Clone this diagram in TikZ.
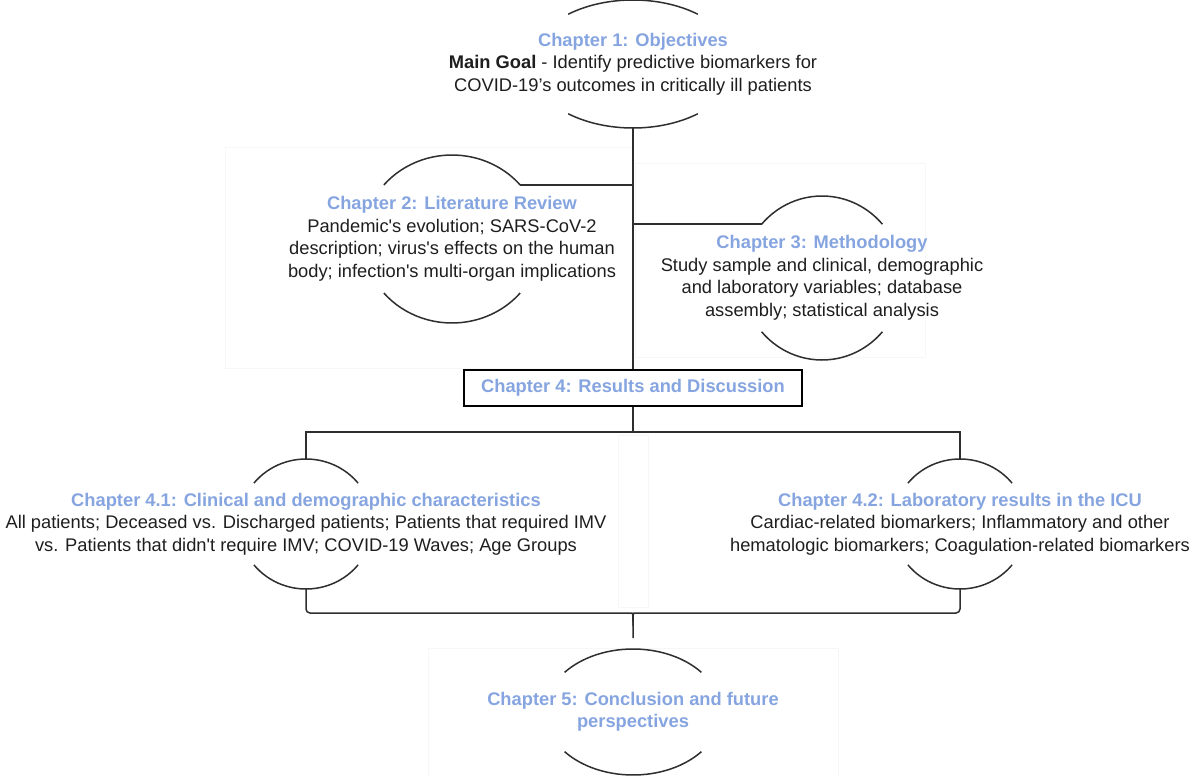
\documentclass[tikz,border=0pt]{standalone}
\usepackage{fontspec}
\setmainfont{Liberation Sans}[Ligatures=TeXOff]
\usepackage{xcolor}
\usetikzlibrary{calc}
\definecolor{TitleBlue}{HTML}{86A5E0}
\definecolor{BodyText}{HTML}{1E1E1E}
\definecolor{LineGray}{HTML}{2E2E2E}
\newcommand{\chtitle}[1]{\textcolor{TitleBlue}{\bfseries #1}}
\newcommand{\chaparcs}[4]{%
  \draw[arcline] ([shift={(180-#4:#2pt and #3pt)}]#1.center)
    arc[start angle=180-#4, end angle=#4, x radius=#2pt, y radius=#3pt];
  \draw[arcline] ([shift={(180+#4:#2pt and #3pt)}]#1.center)
    arc[start angle=180+#4, end angle=360-#4, x radius=#2pt, y radius=#3pt];
  \coordinate (#1-n) at ([yshift=#3pt]#1.center);
  \coordinate (#1-s) at ([yshift=-#3pt]#1.center);
  \coordinate (#1-nw) at ([shift={(180-#4:#2pt and #3pt)}]#1.center);
  \coordinate (#1-ne) at ([shift={(#4:#2pt and #3pt)}]#1.center);}

\begin{document}
\begin{tikzpicture}[x=1pt, y=-1pt,
                    chaptext/.style={align=center, inner sep=0pt, text=BodyText,
                                     font=\fontsize{18.3}{22.5}\selectfont},
                    chapbox/.style={chaptext, draw=black, line width=1.6pt, fill=white,
                                    minimum width=338pt, minimum height=36pt},
                    arcline/.style={draw=LineGray, line width=1.5pt},
                    link/.style={draw=LineGray, line width=1.5pt},
                    panel/.style={draw=black!3, line width=0.6pt}]
\useasboundingbox (0,0) rectangle (1192,776);
\draw[panel] (225,147) rectangle (633,368);
\draw[panel] (635,163) rectangle (925,357);
\draw[panel] (618,435) rectangle (648,607);
\draw[panel] (428,648) rectangle (838,776);

\node[chaptext] (ch1) at (633,64) {\chtitle{Chapter 1: Objectives}\\
  \textbf{Main Goal} - Identify predictive biomarkers for\\
  COVID-19’s outcomes in critically ill patients};
\node[chaptext] (ch2) at (452,239) {\chtitle{Chapter 2: Literature Review}\\
  Pandemic's evolution; SARS-CoV-2\\
  description; virus's effects on the human\\
  body; infection's multi-organ implications};
\node[chaptext] (ch3) at (822,278) {\chtitle{Chapter 3: Methodology}\\
  Study sample and clinical, demographic\\
  and laboratory variables; database\\
  assembly; statistical analysis};
\node[chapbox] (ch4) at (633,388) {\chtitle{Chapter 4: Results and Discussion}};
\node[chaptext] (ch41) at (306,524) {\chtitle{Chapter 4.1: Clinical and demographic characteristics}\\
  All patients; Deceased vs. Discharged patients; Patients that required IMV\\
  vs. Patients that didn't require IMV; COVID-19 Waves; Age Groups};
\node[chaptext] (ch42) at (960,524) {\chtitle{Chapter 4.2: Laboratory results in the ICU}\\
  Cardiac-related biomarkers; Inflammatory and other\\
  hematologic biomarkers; Coagulation-related biomarkers};
\node[chaptext] (ch5) at (633,712) {\chtitle{Chapter 5: Conclusion and future}\\
  \chtitle{perspectives}};

\chaparcs{ch1}{103}{64}{51}
\chaparcs{ch2}{89}{84}{40}
\chaparcs{ch3}{80}{82}{41}
\chaparcs{ch41}{67}{65}{39}
\chaparcs{ch42}{67}{65}{39}
\chaparcs{ch5}{88}{63}{39}

\coordinate (split) at (633,432);
\coordinate (merge) at (633,638);
\draw[link] (ch1-s) -- (ch4);
\draw[link] (ch2-ne) -- (ch2-ne -| ch1-s);
\draw[link] (ch3-nw) -- (ch3-nw -| ch1-s);
\draw[link] (ch4) -- (split);
\draw[link] (ch41-n) |- (split) -| (ch42-n);
\draw[link] (ch41-s) [rounded corners=4pt] |- ([xshift=-6pt, yshift=25pt]merge)
  [sharp corners] .. controls ([yshift=25pt]merge) .. ([yshift=12pt]merge) -- (merge);
\draw[link] (ch42-s) [rounded corners=4pt] |- ([xshift=6pt, yshift=25pt]merge)
  [sharp corners] .. controls ([yshift=25pt]merge) .. ([yshift=12pt]merge);
\end{tikzpicture}
\end{document}
